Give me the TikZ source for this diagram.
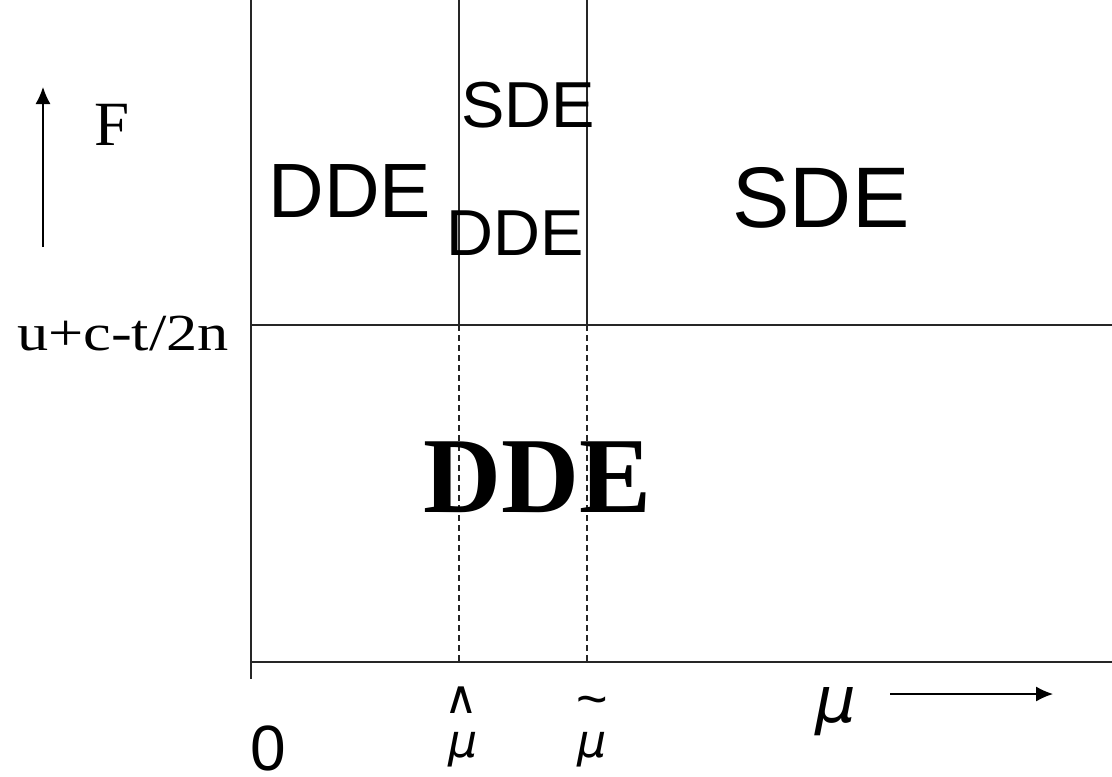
\documentclass[tikz,border=0pt]{standalone}
\usepackage{fontspec}
\setmainfont{Liberation Serif}
\newfontfamily\arialf{Liberation Sans}
\newfontfamily\djv{DejaVu Sans}
\newfontfamily\djvo{DejaVu Sans Oblique}
\usetikzlibrary{arrows.meta}
\newcommand{\fs}[1]{\fontsize{#1}{#1}\selectfont}
\tikzset{
  axisline/.style={line width=1.8pt, draw=black!85},
  divline/.style={line width=1.4pt, draw=black!85},
  divdash/.style={line width=1.4pt, draw=black!85, dash pattern=on 6pt off 4pt},
  arr/.style={line width=1.3pt, -{Latex[length=17pt,width=15pt]}},
  lbl/.style={inner sep=0pt, outer sep=0pt, anchor=base}
}
\begin{document}
\begin{tikzpicture}[x=1pt,y=-1pt]
\useasboundingbox (0,0) rectangle (1112,777);
% frame coordinates
\coordinate (vtop) at (251,0);
\coordinate (vbot) at (251,679);
\coordinate (mL) at (251,325);
\coordinate (mR) at (1112,325);
\coordinate (bL) at (251,662);
\coordinate (bR) at (1112,662);
\coordinate (h1t) at (459,0);
\coordinate (h1m) at (459,325);
\coordinate (h1b) at (459,662);
\coordinate (h2t) at (587,0);
\coordinate (h2m) at (587,325);
\coordinate (h2b) at (587,662);
\coordinate (fa) at (43,247);
\coordinate (fb) at (43,87);
\coordinate (ma) at (890,694);
\coordinate (mb) at (1053,694);
% lines
\draw[axisline] (vtop) -- (vbot);
\draw[axisline] (mL) -- (mR);
\draw[axisline] (bL) -- (bR);
\draw[divline] (h1t) -- (h1m);
\draw[divline] (h2t) -- (h2m);
\draw[divdash] (h1m) -- (h1b);
\draw[divdash] (h2m) -- (h2b);
\draw[arr] (fa) -- (fb);
\draw[arr] (ma) -- (mb);
% labels
\node[lbl] (F) at (112,145) {\fs{63}F};
\node[lbl, xscale=1.2] (thr) at (123,350) {\fs{52}u+c-t/2n};
\node[lbl] (ddeL) at (350,217) {\arialf\fs{77}DDE};
\node[lbl] (sdeT) at (528,127) {\arialf\fs{65}SDE};
\node[lbl] (ddeM) at (515,255) {\arialf\fs{65}DDE};
\node[lbl] (sdeR) at (821,227) {\arialf\fs{86}SDE};
\node[lbl] (ddeB) at (538,512) {\bfseries\fs{108}DDE};
\node[lbl] (zero) at (268,770) {\arialf\fs{64}0};
\node[lbl] (hat) at (461,713) {\djv\fs{46}∧};
\node[lbl] (mu1) at (463,757) {\djvo\fs{46}μ};
\node[lbl] (tilde) at (592,717) {\arialf\fs{54}\char"7E};
\node[lbl] (mu2) at (592,757) {\djvo\fs{46}μ};
\node[lbl] (mu) at (836,722) {\djvo\fs{64}μ};
\end{tikzpicture}
\end{document}
